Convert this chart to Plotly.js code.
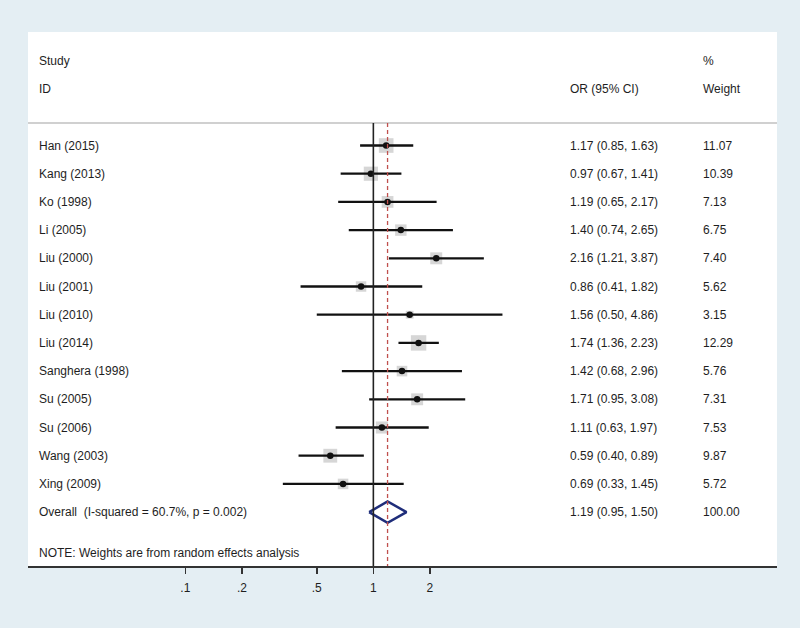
<!DOCTYPE html>
<html>
<head>
<meta charset="utf-8">
<script src="https://cdn.plot.ly/plotly-3.0.1.min.js"></script>
<style>html,body{margin:0;padding:0;background:#e4eef3;}#chart{width:800px;height:628px;}</style>
</head>
<body>
<div id="chart"></div>
<script>
const studies = ["Han (2015)","Kang (2013)","Ko (1998)","Li (2005)","Liu (2000)","Liu (2001)","Liu (2010)","Liu (2014)","Sanghera (1998)","Su (2005)","Su (2006)","Wang (2003)","Xing (2009)"];
const orVals = [1.17,0.97,1.19,1.40,2.16,0.86,1.56,1.74,1.42,1.71,1.11,0.59,0.69];
const ciLow  = [0.85,0.67,0.65,0.74,1.21,0.41,0.50,1.36,0.68,0.95,0.63,0.40,0.33];
const ciHigh = [1.63,1.41,2.17,2.65,3.87,1.82,4.86,2.23,2.96,3.08,1.97,0.89,1.45];
const weights = [11.07,10.39,7.13,6.75,7.40,5.62,3.15,12.29,5.76,7.31,7.53,9.87,5.72];
const overallLabel = "Overall  (I-squared = 60.7%, p = 0.002)";
const overall = {or:1.19, lo:0.95, hi:1.50, weight:"100.00"};
const noteText = "NOTE: Weights are from random effects analysis";
const tickVals = [0.1,0.2,0.5,1,2];
const tickText = [".1",".2",".5","1","2"];

const fmt = v => v.toFixed(2);
const rows = studies.map((s,i)=>i+1);
const overallRow = studies.length + 1;

const lx=[], ly=[];
studies.forEach((s,i)=>{ lx.push(ciLow[i],ciHigh[i],null); ly.push(rows[i],rows[i],null); });

const yTop = -3.025, yBot = 15.911;
const traces = [
  {x: orVals, y: rows, type:'scatter', mode:'markers', hoverinfo:'skip',
   marker:{symbol:'square', size: weights.map(w=>4.4*Math.sqrt(w)), color:'#c4c4c4', line:{width:0}}},
  {x: lx, y: ly, type:'scatter', mode:'lines', hoverinfo:'skip', line:{color:'#111', width:2.3}},
  {x: orVals, y: rows, type:'scatter', mode:'markers', hoverinfo:'skip',
   marker:{symbol:'circle', size:6.5, color:'#111'}},
  {x:[overall.lo, overall.or, overall.hi, overall.or, overall.lo],
   y:[overallRow, overallRow-0.38, overallRow, overallRow+0.38, overallRow],
   type:'scatter', mode:'lines', hoverinfo:'skip', line:{color:'#1f2d7a', width:2.5}}
];

const font = {family:'Liberation Sans, Arial, sans-serif', size:12, color:'#1e1e1e'};
const xL = (37-28)/749, xOR = (568-28)/749, xW = (701-28)/749;
const ann = [];
function txt(x, y, t){ ann.push({xref:'paper', yref:'y', x:x, y:y, text:t, showarrow:false, xanchor:'left', yanchor:'middle', font:font}); }
txt(xL, -2, "Study"); txt(xL, -1, "ID");
txt(xOR, -1, "OR (95% CI)"); txt(xW, -2, "%"); txt(xW, -1, "Weight");
studies.forEach((s,i)=>{
  txt(xL, rows[i], s);
  txt(xOR, rows[i], fmt(orVals[i])+" ("+fmt(ciLow[i])+", "+fmt(ciHigh[i])+")");
  txt(xW, rows[i], fmt(weights[i]));
});
txt(xL, overallRow, overallLabel);
txt(xOR, overallRow, fmt(overall.or)+" ("+fmt(overall.lo)+", "+fmt(overall.hi)+")");
txt(xW, overallRow, overall.weight);
txt(xL, 15.45, noteText);

const shapes = [
  {type:'line', xref:'paper', yref:'y', x0:0, x1:1, y0:0.2, y1:0.2, line:{color:'#d0d0d0', width:2}},
  {type:'line', xref:'x', yref:'y', x0:1, x1:1, y0:0.2, y1:yBot, line:{color:'#222', width:1.6}},
  {type:'line', xref:'x', yref:'y', x0:overall.or, x1:overall.or, y0:0.2, y1:yBot, line:{color:'#c0504d', width:1.3, dash:'4px,3px'}}
];

const layout = {
  width:800, height:628,
  margin:{l:28, r:23, t:32, b:62},
  paper_bgcolor:'#e4eef3', plot_bgcolor:'#ffffff',
  showlegend:false,
  xaxis:{type:'log', range:[-1.837, 2.147], tickvals:tickVals, ticktext:tickText,
    ticks:'outside', ticklen:6, tickwidth:1.5, tickcolor:'#333', ticklabelstandoff:4,
    showline:true, linecolor:'#333', linewidth:2, showgrid:false, zeroline:false,
    tickfont:{family:'Liberation Sans, Arial, sans-serif', size:12, color:'#1e1e1e'}, fixedrange:true},
  yaxis:{range:[yBot, yTop], visible:false, showgrid:false, zeroline:false, fixedrange:true},
  annotations: ann,
  shapes: shapes
};
Plotly.newPlot('chart', traces, layout, {displayModeBar:false, staticPlot:true});
</script>
</body>
</html>
